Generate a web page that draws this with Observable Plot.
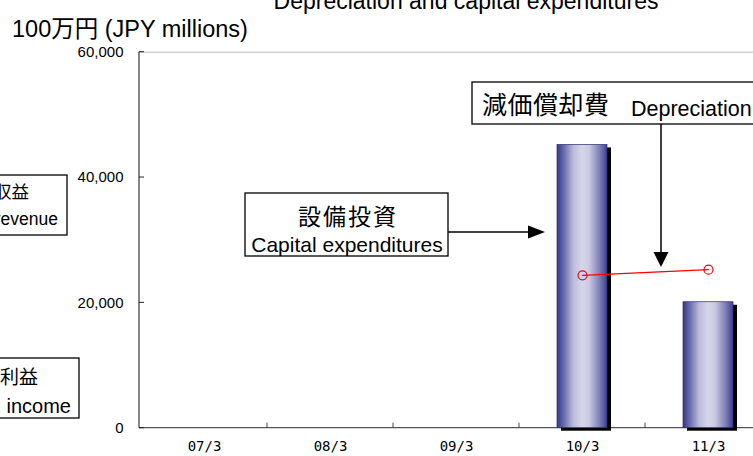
<!DOCTYPE html>
<html><head><meta charset="utf-8">
<script src="https://cdn.jsdelivr.net/npm/d3@7"></script>
<script src="https://cdn.jsdelivr.net/npm/@observablehq/plot@0.6"></script>
<style>html,body{margin:0;padding:0;background:#fff;overflow:hidden}</style>
</head><body><div id="chart"></div>
<script>
// ---- data ----
const categories = ["07/3", "08/3", "09/3", "10/3", "11/3"];
const capex = [null, null, null, 45200, 20100];
const depreciation = [null, null, null, 24400, 25300];
const yTicks = [0, 20000, 40000, 60000];
const titleText = "Depreciation and capital expenditures";
const unitText = "100万円 (JPY millions)";
const capexLabel = ["設備投資", "Capital expenditures"];
const deprLabel = ["減価償却費", "Depreciation"];
const revenueLabel = ["営業収益", "Operating revenue"];
const incomeLabel = ["営業利益", "Operating income"];

const rows = categories.map((c, i) => ({cat: c, capex: capex[i], dep: depreciation[i]}));
const barRows = rows.filter(d => d.capex != null);
const depRows = rows.filter(d => d.dep != null);

const SANS = "'Liberation Sans', Arial, 'Noto Sans CJK JP', sans-serif";
const MONO = "'DejaVu Sans Mono', 'Liberation Mono', monospace";

function defsMark() {
  const g = d3.create("svg:g");
  const lg = g.append("defs").append("linearGradient")
    .attr("id", "barGrad").attr("x1", 0).attr("x2", 1).attr("y1", 0).attr("y2", 0);
  [[0, "#36368e"], [0.12, "#6464a8"], [0.33, "#bcbcdc"], [0.5, "#d6d6ea"], [0.64, "#cacae2"], [0.86, "#7a7ab6"], [1, "#3e3e98"]]
    .forEach(([o, c]) => lg.append("stop").attr("offset", o).attr("stop-color", c));
  return g.node();
}

function axesMark(index, scales, values, dims) {
  const {marginLeft, marginTop, marginBottom, height, width} = dims;
  const x = scales.x, y = scales.y;
  const bw = x.bandwidth ? x.bandwidth() : 126.7;
  const y0 = y(0);
  const g = d3.create("svg:g");
  g.append("line").attr("x1", marginLeft).attr("x2", width).attr("y1", y0).attr("y2", y0)
    .attr("stroke", "#555").attr("stroke-width", 1.2);
  const bounds = categories.slice(1).map(c => x(c)).concat([x(categories[categories.length - 1]) + bw]);
  bounds.forEach(b => g.append("line").attr("x1", b).attr("x2", b).attr("y1", y0).attr("y2", y0 - 5)
    .attr("stroke", "#444").attr("stroke-width", 1));
  g.append("line").attr("x1", marginLeft).attr("x2", marginLeft).attr("y1", y(60000)).attr("y2", y0)
    .attr("stroke", "#222").attr("stroke-width", 1.1);
  yTicks.forEach(t => g.append("line").attr("x1", marginLeft).attr("x2", marginLeft + 5)
    .attr("y1", y(t)).attr("y2", y(t)).attr("stroke", "#222").attr("stroke-width", 1));
  return g.node();
}

function annotationsMark() {
  const g = d3.create("svg:g").attr("font-family", SANS).attr("fill", "#000").attr("text-anchor", "start");
  const txt = (x, y, size, s, anchor = "start") => g.append("text").attr("x", x).attr("y", y)
    .attr("font-size", size).attr("text-anchor", anchor).text(s);
  txt(466, 8.5, 23, titleText, "middle");
  txt(12, 37, 23.5, unitText);

  const box = (x1, y1, x2, y2) => g.append("rect").attr("x", x1).attr("y", y1)
    .attr("width", x2 - x1).attr("height", y2 - y1).attr("fill", "white").attr("stroke", "#000").attr("stroke-width", 1.3);

  box(-80, 175, 67, 235);
  txt(29, 198, 17.5, revenueLabel[0], "end");
  txt(58, 225, 17.5, revenueLabel[1], "end");
  box(-80, 358, 79, 418);
  txt(38, 384, 19, incomeLabel[0], "end");
  txt(71, 413, 20, incomeLabel[1], "end");

  box(245, 193, 448, 256);
  txt(348, 225, 23, capexLabel[0], "middle").attr("letter-spacing", 2);
  txt(347, 252, 21, capexLabel[1], "middle");
  g.append("line").attr("x1", 448).attr("x2", 530).attr("y1", 232).attr("y2", 232).attr("stroke", "#000").attr("stroke-width", 1.5);
  g.append("path").attr("d", "M528,225.5L545,232L528,238.5Z").attr("fill", "#000");

  box(472, 82, 800, 124);
  txt(482, 114, 25, deprLabel[0]).attr("letter-spacing", 0.5);
  txt(631, 115.5, 21.5, deprLabel[1]);
  g.append("line").attr("x1", 661).attr("x2", 661).attr("y1", 124).attr("y2", 254).attr("stroke", "#000").attr("stroke-width", 1.5);
  g.append("path").attr("d", "M653.5,252L668.5,252L661,267Z").attr("fill", "#000");
  return g.node();
}

const chart = Plot.plot({
  width: 753,
  height: 456,
  marginLeft: 139,
  marginRight: 0,
  marginTop: 52,
  marginBottom: 28,
  style: {background: "white", fontFamily: SANS, color: "#000"},
  x: {type: "band", domain: categories, range: [139, 772.5], padding: 0, axis: null, label: null},
  y: {domain: [0, 60000], range: [427.7, 51.7], axis: null, label: null},
  marks: [
    defsMark,
    Plot.ruleY([60000], {stroke: "#b8b8b8", strokeWidth: 1}),
    Plot.axisY({ticks: yTicks, tickSize: 0, tickPadding: 16, tickFormat: d3.format(","), fontSize: 15, label: null}),
    Plot.axisX({tickSize: 0, tickPadding: 13, fontSize: 14, fontFamily: MONO, label: null}),
    axesMark,
    Plot.barY(barRows, {x: "cat", y: "capex", fill: "#000", dx: 4, dy: 3, insetLeft: 38, insetRight: 38}),
    Plot.barY(barRows, {x: "cat", y: "capex", fill: "url(#barGrad)", stroke: "#2b2b6b", strokeWidth: 0.7, insetLeft: 38, insetRight: 38}),
    Plot.line(depRows, {x: "cat", y: "dep", stroke: "#ff0000", strokeWidth: 1.2}),
    Plot.dot(depRows, {x: "cat", y: "dep", r: 4.5, stroke: "#ff0000", fill: "none", strokeWidth: 1.2}),
    annotationsMark
  ]
});
document.getElementById("chart").appendChild(chart);
</script>
</body></html>
